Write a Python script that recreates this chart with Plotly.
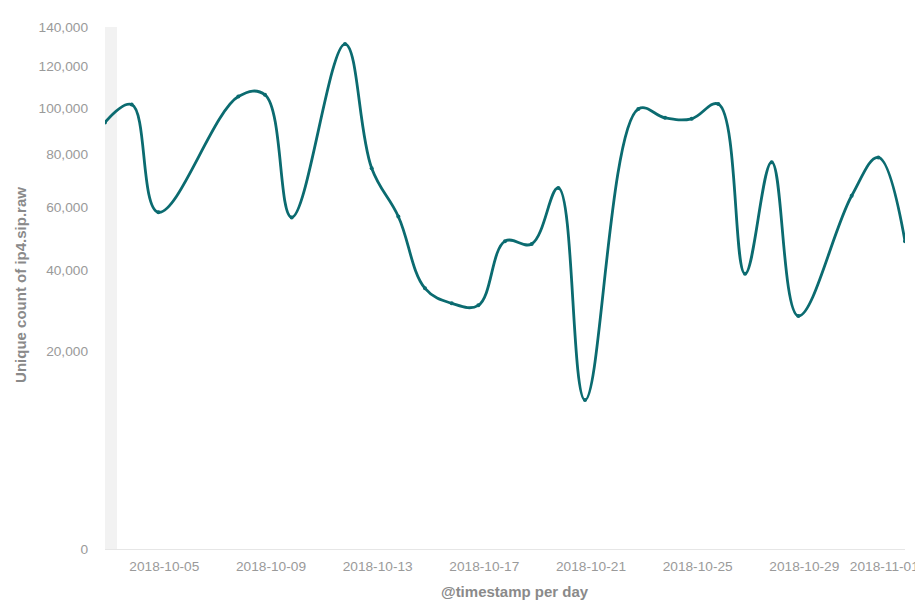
import math
import plotly.graph_objects as go

# Data (days with no bucket are absent)
dates = [
    "2018-10-03", "2018-10-04", "2018-10-05", "2018-10-08", "2018-10-09",
    "2018-10-10", "2018-10-12", "2018-10-13", "2018-10-14", "2018-10-15",
    "2018-10-16", "2018-10-17", "2018-10-18", "2018-10-19", "2018-10-20",
    "2018-10-21", "2018-10-23", "2018-10-24", "2018-10-25", "2018-10-26",
    "2018-10-27", "2018-10-28", "2018-10-29", "2018-10-31", "2018-11-01",
    "2018-11-02",
]
unique_counts = [
    93500, 101500, 58300, 105200, 106000,
    56500, 131000, 74500, 56800, 34900,
    31000, 30500, 48700, 47800, 67000,
    11400, 99500, 95500, 95100, 101700,
    38900, 76900, 27900, 64100, 78800,
    48700,
]
y_tick_values = [0, 20000, 40000, 60000, 80000, 100000, 120000, 140000]
x_tick_dates = ["2018-10-05", "2018-10-09", "2018-10-13", "2018-10-17",
                "2018-10-21", "2018-10-25", "2018-10-29", "2018-11-01"]

# square-root scale
sqrt_vals = [math.sqrt(v) for v in unique_counts]

LINE = "#0b6b70"
GREY = "#9a9a9a"
FONT = "Liberation Sans, Arial, sans-serif"

fig = go.Figure()
fig.add_trace(go.Scatter(
    x=dates, y=sqrt_vals,
    customdata=unique_counts,
    mode="lines+markers",
    line=dict(color=LINE, width=2.8, shape="spline", smoothing=1.1),
    marker=dict(color=LINE, size=4),
    hovertemplate="%{x}<br>%{customdata:,}<extra></extra>",
    showlegend=False,
))

fig.add_shape(type="rect", xref="paper", yref="paper", x0=0, x1=0.015, y0=0, y1=1,
              fillcolor="#f2f2f2", line=dict(width=0), layer="below")

fig.update_layout(
    width=923, height=605,
    margin=dict(l=97, r=21, t=12, b=64),
    paper_bgcolor="white", plot_bgcolor="white",
    font=dict(family=FONT, size=13.7, color=GREY),
    xaxis=dict(
        type="date",
        range=["2018-10-03", "2018-11-02"],
        tickvals=x_tick_dates,
        ticktext=x_tick_dates,
        ticks="", showgrid=False, zeroline=False,
        showline=True, linecolor="#e6e6e6", linewidth=1,
        ticklabelshift=6, ticklabelstandoff=5,
        tickfont=dict(size=13.7, color=GREY),
    ),
    yaxis=dict(
        range=[0, math.sqrt(140000)],
        tickvals=[math.sqrt(v) for v in y_tick_values],
        ticktext=[f"{v:,}" for v in y_tick_values],
        ticks="", showgrid=False, zeroline=False, showline=False,
        ticklabelstandoff=16,
        tickfont=dict(size=13.7, color=GREY),
    ),
    annotations=[
        dict(text="<b>Unique count of ip4.sip.raw</b>", textangle=-90,
             xref="paper", yref="paper", x=-0.1056, y=0.505, xanchor="center", yanchor="middle",
             showarrow=False, font=dict(size=15, color="#8a8a8a", family=FONT)),
        dict(text="<b>@timestamp per day</b>",
             xref="paper", yref="paper", x=0.512, y=-0.081, xanchor="center", yanchor="middle",
             showarrow=False, font=dict(size=15, color="#8a8a8a", family=FONT)),
    ],
)

fig.write_html("out.html")
